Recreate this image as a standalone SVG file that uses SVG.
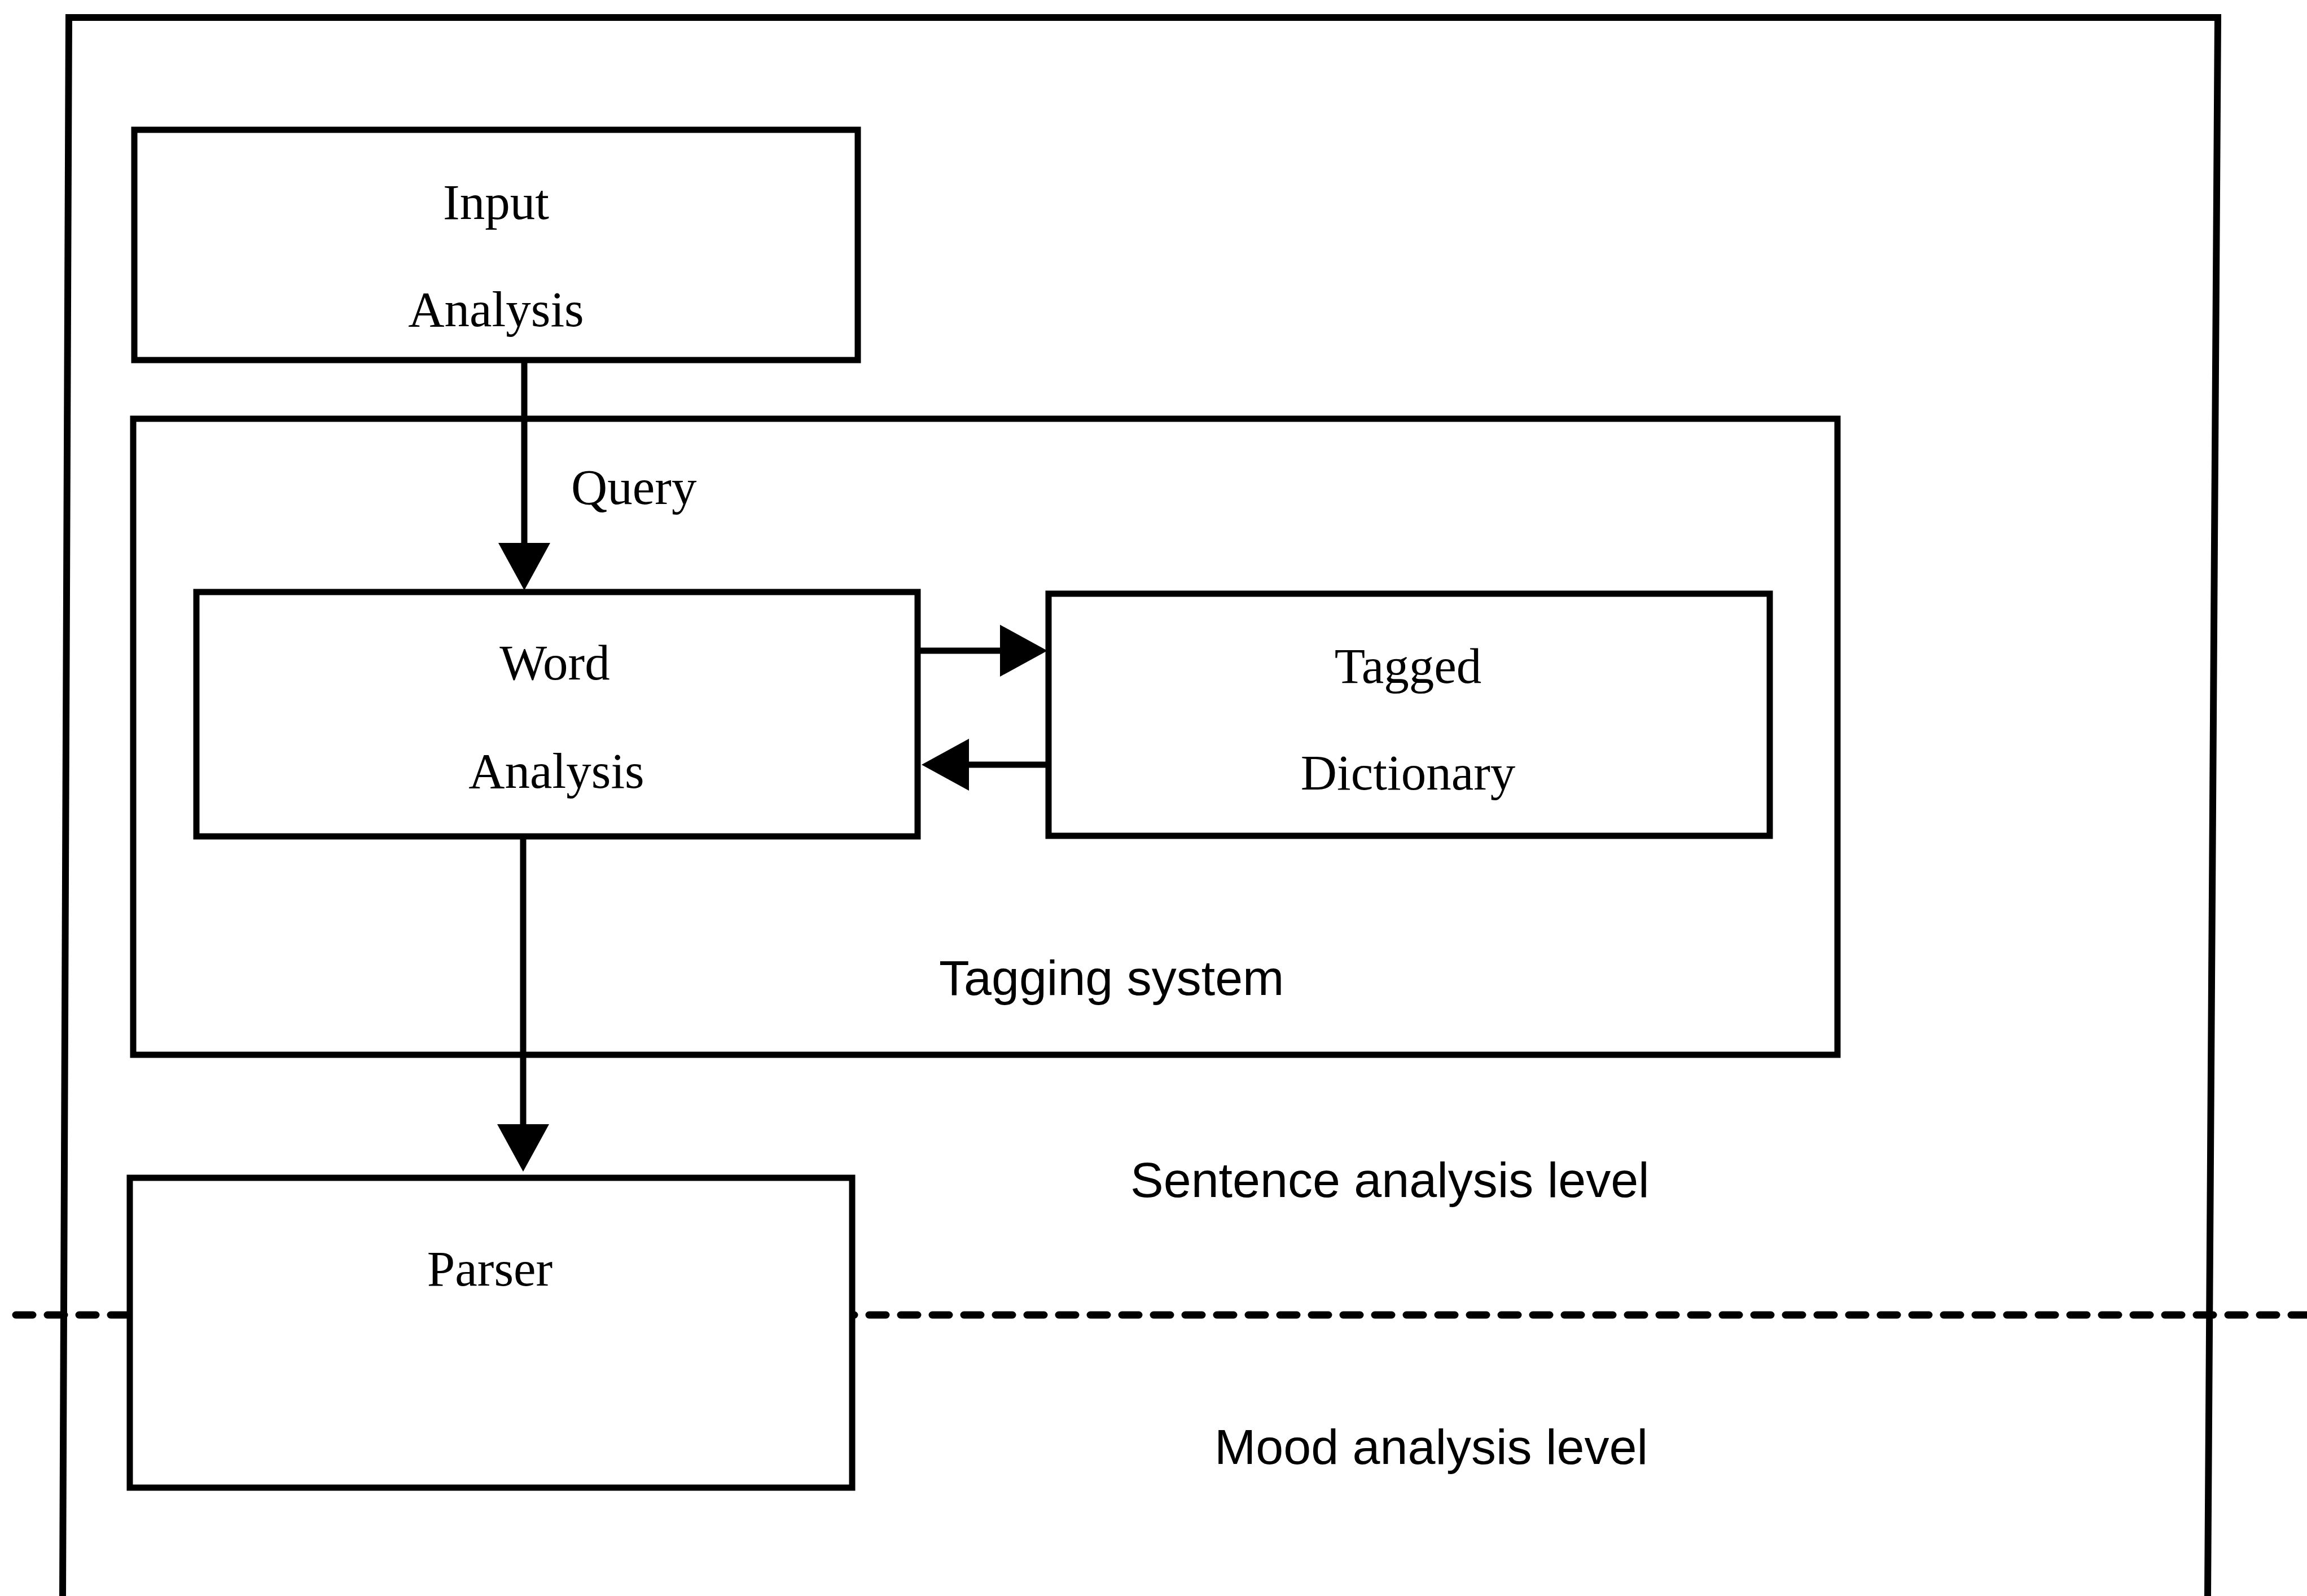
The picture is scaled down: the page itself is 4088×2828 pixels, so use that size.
<svg xmlns="http://www.w3.org/2000/svg" width="4088" height="2828" viewBox="0 0 4088 2828">
  <style>
    .box { fill: #ffffff; stroke: #000000; stroke-width: 11; }
    .frame { fill: none; stroke: #000000; stroke-width: 12; }
    .link { fill: none; stroke: #000000; stroke-width: 11; }
    .divider { fill: none; stroke: #000000; stroke-width: 13; stroke-dasharray: 30 26; stroke-linecap: round; }
    .serif { font-family: "Liberation Serif", "Times New Roman", serif; font-size: 89px; fill: #000000; }
    .sans { font-family: "Liberation Sans", Arial, sans-serif; font-size: 88px; fill: #000000; }
  </style>
  <defs>
    <marker id="arrow" markerUnits="userSpaceOnUse" markerWidth="90" markerHeight="92" viewBox="0 0 84 92" refX="10" refY="46" orient="auto">
      <path d="M0,0 L84,46 L0,92 Z" fill="#000000"/>
    </marker>
  </defs>

  <rect width="4088" height="2828" fill="#ffffff"/>

  <!-- outer frame, open at the bottom -->
  <g id="frame">
    <path class="frame" d="M111,2828 L122,31 L3930,31 L3912,2828"/>
  </g>

  <!-- level divider -->
  <g id="divider">
    <line class="divider" x1="28" y1="2330" x2="4088" y2="2330"/>
  </g>

  <g id="tagging-system">
    <rect class="box" x="236" y="742" width="3020" height="1127"/>
    <text class="sans" x="1664" y="1763">Tagging system</text>
  </g>

  <g id="input-analysis">
    <rect class="box" x="238" y="230" width="1282" height="408"/>
    <text class="serif" x="879" y="388" text-anchor="middle">Input</text>
    <text class="serif" x="879" y="578" text-anchor="middle">Analysis</text>
  </g>

  <g id="word-analysis">
    <rect class="box" x="348" y="1049" width="1278" height="433"/>
    <text class="serif" x="983" y="1204" text-anchor="middle">Word</text>
    <text class="serif" x="986" y="1396" text-anchor="middle">Analysis</text>
  </g>

  <g id="tagged-dictionary">
    <rect class="box" x="1858" y="1052" width="1278" height="429"/>
    <text class="serif" x="2495" y="1210" text-anchor="middle">Tagged</text>
    <text class="serif" x="2495" y="1399" text-anchor="middle">Dictionary</text>
  </g>

  <g id="parser">
    <rect class="box" x="230" y="2087" width="1280" height="549"/>
    <text class="serif" x="868" y="2278" text-anchor="middle">Parser</text>
  </g>

  <g id="labels">
    <text class="serif" x="1012" y="893">Query</text>
    <text class="sans" x="2003" y="2121">Sentence analysis level</text>
    <text class="sans" x="2152" y="2594">Mood analysis level</text>
  </g>

  <g id="connectors">
    <line class="link" x1="929" y1="638" x2="929" y2="972" marker-end="url(#arrow)"/>
    <line class="link" x1="1626" y1="1153" x2="1782" y2="1153" marker-end="url(#arrow)"/>
    <line class="link" x1="1858" y1="1355" x2="1707" y2="1355" marker-end="url(#arrow)"/>
    <line class="link" x1="927" y1="1482" x2="927" y2="2002" marker-end="url(#arrow)"/>
  </g>
</svg>
